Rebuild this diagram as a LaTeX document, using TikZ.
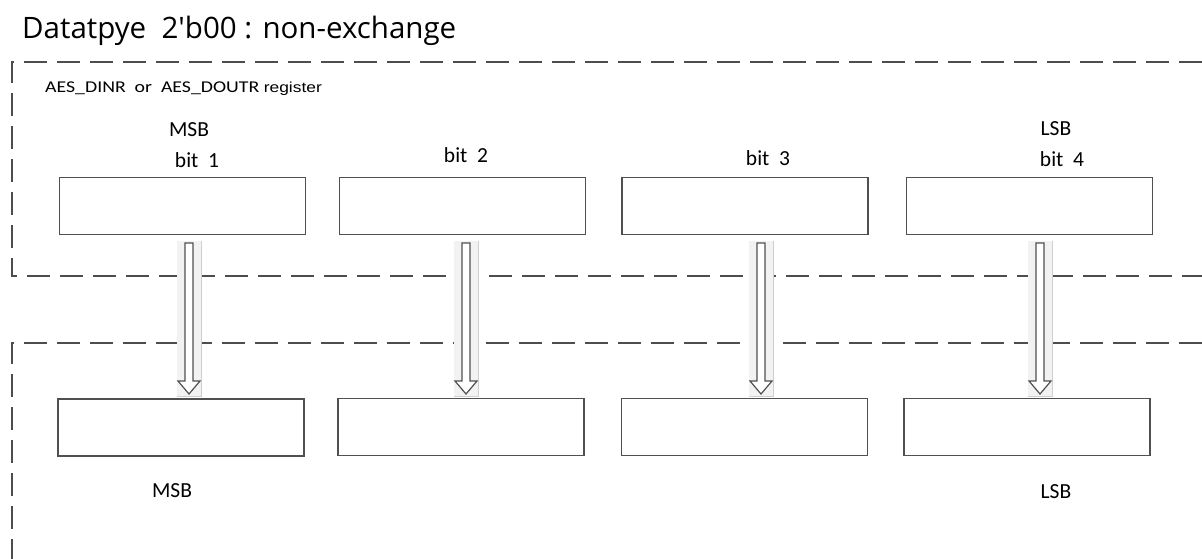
\documentclass[tikz,border=0pt]{standalone}
\usepackage{fontspec}
\setmainfont{Carlito}
\newfontfamily\titlefont{Open Sans}
\newfontfamily\regfont{Liberation Sans}
\usetikzlibrary{calc}
\definecolor{dashcol}{HTML}{4D4D4D}
\definecolor{boxcol}{HTML}{505050}
\definecolor{arrbg}{HTML}{F2F2F2}
\definecolor{arrsh}{HTML}{CFCFCF}
\tikzset{
  framedash/.style={draw=dashcol, line width=2.6pt, dash pattern=on 23pt off 10pt},
  regbox/.style={draw=boxcol, line width=1.3pt, minimum width=246pt, minimum height=57pt, inner sep=0pt},
  lbl/.style={font=\fontsize{21.5}{24}\selectfont, inner sep=0pt, anchor=base},
  hollow/.style={draw=boxcol, line width=1.2pt, fill=white},
}
\newcommand\hollowarrow[3]{% #1 name, #2 x, #3 unused
  \coordinate (#1s) at (#2,243);
  \coordinate (#1e) at (#2,394);
  \fill[arrbg] ($(#1s)+(-12,-2)$) rectangle ($(#1e)+(12,2)$);
  \draw[arrsh, line width=1pt] ($(#1s)+(12,-2)$) -- ($(#1e)+(12,2)$) -- ($(#1e)+(-12,2)$);
  \draw[hollow] ($(#1s)+(-4,0)$) -- ($(#1s)+(4,0)$) -- ($(#1e)+(4,-13)$) -- ($(#1e)+(11,-13)$)
     -- (#1e) -- ($(#1e)+(-11,-13)$) -- ($(#1e)+(-4,-13)$) -- cycle;
}
\begin{document}
\begin{tikzpicture}[x=1pt,y=-1pt]
\useasboundingbox (0,0) rectangle (1202,558);
% title
\node[anchor=base west, inner sep=0pt, font=\titlefont\fontsize{29.5}{32}\selectfont] (title) at (22,38) {Datatpye\ \ 2'b00 : non-exchange};
% frames
\draw[framedash] (1202,62) -- (12,62) -- (12,276) -- (1202,276);
\draw[framedash] (1202,343) -- (12,343) -- (12,560);
% register caption
\node[anchor=base west, inner sep=0pt] (cap) at (45,92) {\scalebox{1.2}[1]{\fontsize{16.5}{18}\selectfont AES\_DINR\ \ or\ \ AES\_DOUTR {\regfont\fontsize{14.5}{17}\selectfont register}}};
% top boxes
\node[regbox] (t1) at (182.5,206) {};
\node[regbox] (t2) at (462.5,206) {};
\node[regbox] (t3) at (745,206) {};
\node[regbox] (t4) at (1029.5,206) {};
% bottom boxes
\node[regbox] (b1) at (181,427.5) {};
\node[regbox] (b2) at (461,427) {};
\node[regbox] (b3) at (744.5,427) {};
\node[regbox] (b4) at (1027,427) {};
% labels
\node[lbl] (msbt) at (189,136) {MSB};
\node[lbl] (bit1) at (197,167) {bit\ \ 1};
\node[lbl] (bit2) at (466,162) {bit\ \ 2};
\node[lbl] (bit3) at (768,165) {bit\ \ 3};
\node[lbl] (lsbt) at (1056,135) {LSB};
\node[lbl] (bit4) at (1062,166) {bit\ \ 4};
\node[lbl] (msbb) at (172,497) {MSB};
\node[lbl] (lsbb) at (1056,498) {LSB};
% arrows
\hollowarrow{a1}{189}{}
\hollowarrow{a2}{466}{}
\hollowarrow{a3}{761}{}
\hollowarrow{a4}{1040}{}
\end{tikzpicture}
\end{document}
